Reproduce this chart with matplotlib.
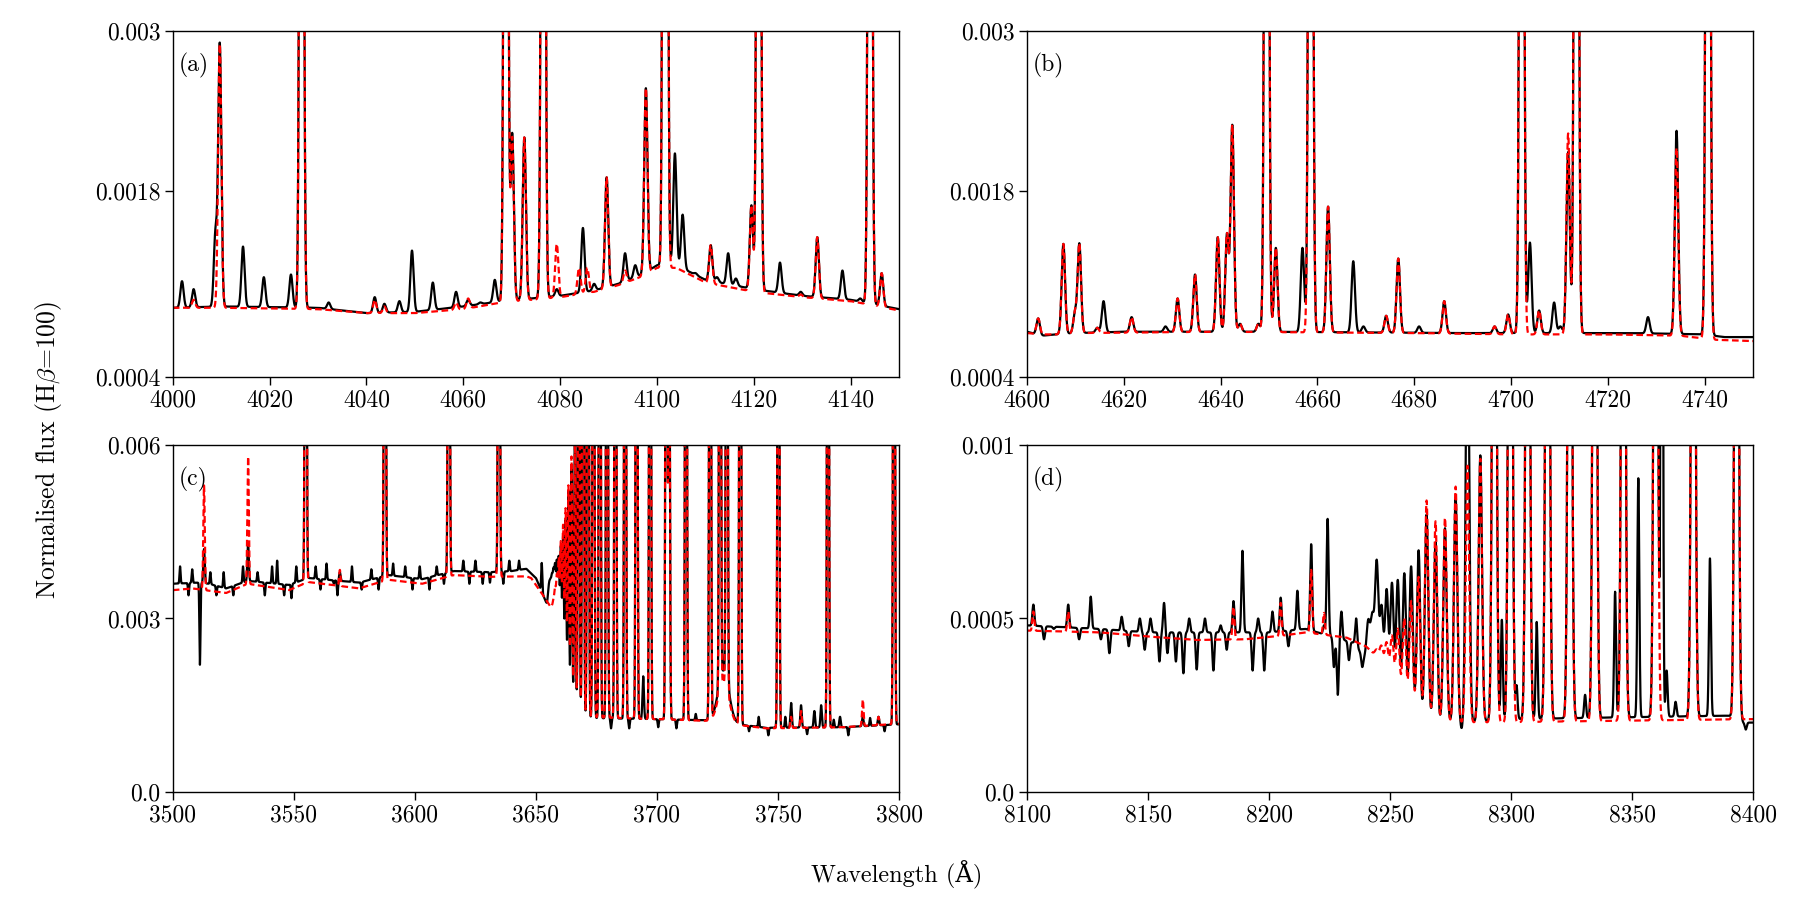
import numpy as np
import matplotlib
matplotlib.use("Agg")
import matplotlib.pyplot as plt

plt.rcParams['font.family'] = ['cmr10', 'DejaVu Serif']
plt.rcParams['mathtext.fontset'] = 'cm'
plt.rcParams['axes.formatter.use_mathtext'] = True
plt.rcParams['axes.unicode_minus'] = False

# ---------------- Panel (a): 4000-4150 A ----------------
a_cont_obs_wl = [4000, 4010, 4030, 4040, 4050, 4060, 4068, 4080, 4087, 4092, 4097, 4100, 4104, 4110, 4120, 4130, 4140, 4150]
a_cont_obs    = [0.00092, 0.00093, 0.00092, 0.00088, 0.00089, 0.00093, 0.00097, 0.00101, 0.00105, 0.0011, 0.00117, 0.00124, 0.00124, 0.00113, 0.00106, 0.00101, 0.00098, 0.00091]
a_cont_mod_wl = [4000, 4010, 4030, 4040, 4050, 4060, 4068, 4080, 4087, 4092, 4096.5, 4100, 4104, 4110, 4120, 4130, 4140, 4150]
a_cont_mod    = [0.00092, 0.00092, 0.00091, 0.00088, 0.00088, 0.00091, 0.00096, 0.001, 0.00104, 0.00109, 0.00115, 0.00122, 0.00122, 0.00111, 0.00104, 0.001, 0.00097, 0.0009]
a_line_wl  = [4001.9, 4004.3, 4008.8, 4009.7, 4014.5, 4018.8, 4024.4, 4026.6, 4032.2, 4041.7, 4043.7, 4046.8, 4049.4, 4053.7, 4058.5, 4061.0, 4063.5, 4066.5, 4068.8, 4070.1, 4072.6, 4076.5, 4079.3, 4083.9, 4084.7, 4085.6, 4087.0, 4089.6, 4093.4, 4095.5, 4097.7, 4101.7, 4103.7, 4105.3, 4108.0, 4111.1, 4112.4, 4114.7, 4116.3, 4119.5, 4121.0, 4125.4, 4129.7, 4133.1, 4138.3, 4142.0, 4144.0, 4146.4]
a_line_obs = [0.00112, 0.00106, 0.00147, 0.0029, 0.00138, 0.00115, 0.00117, 0.012, 0.00096, 0.001, 0.00095, 0.00097, 0.00135, 0.00111, 0.00104, 0.00098, 0.00096, 0.00113, 0.012, 0.00223, 0.0022, 0.012, 0.00106, 0, 0.00152, 0, 0.0011, 0.0019, 0.00133, 0.00124, 0.00257, 0.02, 0.00208, 0.00162, 0.00118, 0.00139, 0.00115, 0.00133, 0.00114, 0.00169, 0.012, 0.00126, 0.00104, 0.00145, 0.0012, 0.00099, 0.012, 0.00118]
a_line_mod = [0, 0.00098, 0, 0.0029, 0, 0, 0, 0.012, 0, 0.00098, 0.00093, 0, 0, 0, 0.00096, 0.00099, 0, 0, 0.012, 0.0022, 0.0022, 0.012, 0.0014, 0.00122, 0, 0.00122, 0, 0.0019, 0.0012, 0, 0.00257, 0.02, 0, 0, 0, 0.00139, 0, 0, 0, 0.00169, 0.012, 0, 0.00102, 0.00145, 0, 0, 0.012, 0.00118]

# ---------------- Panel (b): 4600-4750 A ----------------
b_cont_obs_wl = [4600, 4603, 4606, 4610, 4620, 4650, 4690, 4710, 4725, 4740, 4744, 4750]
b_cont_obs    = [0.00074, 0.00071, 0.00072, 0.00073, 0.00074, 0.00074, 0.00073, 0.00073, 0.00073, 0.00072, 0.0007, 0.0007]
b_cont_mod_wl = [4600, 4603, 4606, 4610, 4640, 4680, 4700, 4720, 4735, 4742, 4750]
b_cont_mod    = [0.00073, 0.00072, 0.00072, 0.00073, 0.00074, 0.00073, 0.00072, 0.00072, 0.00071, 0.00068, 0.00067]
b_line_wl  = [4602.3, 4607.5, 4609.9, 4610.8, 4614.5, 4615.8, 4621.6, 4628.6, 4631.1, 4634.7, 4639.4, 4641.3, 4642.4, 4644.0, 4647.8, 4649.5, 4651.4, 4656.9, 4658.6, 4662.2, 4667.4, 4669.5, 4674.2, 4676.7, 4681.0, 4686.2, 4696.6, 4699.4, 4702.2, 4703.9, 4705.8, 4708.9, 4710.2, 4711.8, 4713.5, 4728.3, 4734.2, 4740.7]
b_line_obs = [0.00084, 0.0014, 0.00088, 0.0014, 0.00077, 0.00097, 0.00085, 0.00078, 0.00099, 0.00117, 0.00145, 0.00147, 0.00229, 0.0008, 0.0008, 0.012, 0.00137, 0.00137, 0.012, 0.00168, 0.00127, 0.00078, 0.00086, 0.00129, 0.00078, 0.00097, 0.00078, 0.00087, 0.012, 0.00141, 0.0009, 0.00096, 0.00078, 0.00209, 0.012, 0.00085, 0.00225, 0.012]
b_line_mod = [0.00084, 0.0014, 0.00088, 0.0014, 0.00077, 0, 0.00085, 0, 0.00099, 0.00117, 0.00145, 0.00147, 0.00229, 0.0008, 0.0008, 0.012, 0.00137, 0, 0.012, 0.00168, 0, 0, 0.00086, 0.00129, 0, 0.00097, 0.00078, 0.00087, 0.012, 0, 0.0009, 0, 0, 0.00223, 0.012, 0, 0.00212, 0.012]

# ---------------- Panel (c): 3500-3800 A ----------------
c_cont_obs_wl = [3500, 3510, 3515, 3522, 3531, 3548, 3556, 3577, 3589, 3603, 3616, 3631, 3640, 3646, 3650, 3653, 3656, 3659, 3662, 3664, 3670, 3700, 3720, 3745, 3777, 3800]
c_cont_obs    = [0.0036, 0.00362, 0.0036, 0.00352, 0.00365, 0.00358, 0.0037, 0.00362, 0.00375, 0.00368, 0.00382, 0.0038, 0.00382, 0.00386, 0.0037, 0.0034, 0.0031, 0.0025, 0.0017, 0.00135, 0.00128, 0.00126, 0.00124, 0.00111, 0.00112, 0.00117]
c_cont_mod_wl = [3500, 3508, 3522, 3531, 3548, 3556, 3577, 3589, 3603, 3616, 3631, 3646, 3648, 3650, 3653, 3656, 3659, 3661.2, 3663, 3665.3, 3668, 3700, 3720, 3745, 3777, 3800]
c_cont_mod    = [0.00349, 0.00352, 0.00344, 0.0036, 0.00349, 0.00363, 0.00352, 0.00367, 0.0036, 0.00375, 0.00372, 0.00373, 0.0037, 0.00358, 0.0034, 0.0032, 0.0028, 0.00235, 0.0019, 0.00146, 0.0013, 0.00126, 0.00123, 0.0011, 0.00112, 0.00118]
# emission lines (Balmer series and others)
c_line_wl  = [3512.9, 3531.1, 3554.9, 3569.0, 3587.6, 3614.0, 3634.7,
              3655.12, 3655.59, 3656.11, 3656.66, 3657.27, 3657.92, 3658.64, 3659.42, 3660.28, 3661.22, 3662.26, 3663.41, 3664.68, 3666.10, 3667.68, 3669.46, 3671.48, 3673.76, 3676.36, 3679.35, 3682.81, 3686.83, 3691.56, 3694.3, 3697.15, 3703.86, 3705.0, 3711.97, 3721.94, 3726.03, 3728.82, 3734.37, 3750.15, 3755.4, 3759.5, 3765.0, 3767.8, 3770.63, 3775.6, 3785.0, 3791.5, 3797.9]
c_line_obs = [0.0042, 0.0043, 0.02, 0.0038, 0.02, 0.02, 0.02,
              0.0034, 0.0035, 0.0035, 0.0036, 0.0037, 0.0038, 0.0039, 0.0040, 0.0042, 0.0044, 0.0047, 0.0052, 0.0056, 0.0065, 0.012, 0.02, 0.02, 0.02, 0.02, 0.02, 0.02, 0.02, 0.02, 0.0020, 0.02, 0.02, 0.01, 0.02, 0.02, 0.02, 0.02, 0.02, 0.02, 0.00154, 0.0015, 0.0014, 0.0015, 0.02, 0.0013, 0.0013, 0.0013, 0.02]
c_line_mod = [0.0053, 0.0058, 0.02, 0.00384, 0.02, 0.02, 0.02,
              0, 0, 0, 0.0032, 0.0033, 0.0035, 0.0037, 0.0040, 0.0043, 0.0046, 0.0049, 0.0053, 0.0058, 0.0062, 0.012, 0.02, 0.02, 0.02, 0.02, 0.02, 0.02, 0.02, 0.02, 0, 0.02, 0.02, 0.01, 0.02, 0.02, 0.02, 0.02, 0.02, 0.02, 0.0013, 0.0014, 0, 0, 0.02, 0, 0.0016, 0.0013, 0.02]
# narrow spikes and dips in the observed spectrum
c_spike_wl  = [3503.0, 3506.5, 3508.0, 3511.2, 3515.5, 3518.0, 3521.0, 3525.0, 3529.0, 3535.0, 3538.0, 3541.0, 3543.1, 3546.0, 3549.0, 3551.0, 3559.0, 3561.0, 3563.5, 3566.5, 3568.0, 3574.0, 3578.0, 3582.0, 3585.0, 3591.0, 3596.0, 3599.0, 3602.0, 3606.0, 3609.0, 3612.0, 3620.0, 3622.5, 3625.0, 3628.0, 3631.0, 3636.5, 3639.0, 3643.0, 3652.4,
               3681.0, 3688.5, 3700.5, 3708.0, 3716.0, 3738.0, 3742.0, 3746.0, 3753.0, 3762.0, 3773.0, 3779.0, 3788.0, 3794.0]
c_spike_obs = [0.0039, 0.0034, 0.00385, 0.0022, 0.0038, 0.0034, 0.0038, 0.0034, 0.0039, 0.0038, 0.0034, 0.0039, 0.0040, 0.0034, 0.00335, 0.0039, 0.0039, 0.0035, 0.00395, 0.0036, 0.0034, 0.0039, 0.0035, 0.00385, 0.0035, 0.00395, 0.0039, 0.0035, 0.0039, 0.0035, 0.0039, 0.0036, 0.0040, 0.0036, 0.0040, 0.0036, 0.00362, 0.0036, 0.0040, 0.0040, 0.00396,
               0.0011, 0.0011, 0.00112, 0.0011, 0.00135, 0.00105, 0.0013, 0.00098, 0.0013, 0.001, 0.00125, 0.00098, 0.00128, 0.00105]
c_spike_mod = [0] * len(c_spike_wl)
# broad [O II] component
c_broad_wl = [3727.5]
c_broad_obs = [0.0021]
c_broad_mod = [0.0019]

# ---------------- Panel (d): 8100-8400 A ----------------
d_cont_obs_wl = [8100, 8130, 8150, 8170, 8200, 8215, 8225, 8235, 8240, 8245, 8250, 8258, 8265, 8280, 8300, 8390, 8396, 8400]
d_cont_obs    = [0.00048, 0.00047, 0.00046, 0.00046, 0.00046, 0.00047, 0.00045, 0.00043, 0.00038, 0.00032, 0.00027, 0.00023, 0.00021, 0.0002, 0.00021, 0.00022, 0.0002, 0.0002]
d_cont_mod_wl = [8100, 8130, 8150, 8170, 8190, 8205, 8215, 8232, 8240, 8246, 8250, 8256, 8262, 8270, 8285, 8400]
d_cont_mod    = [0.000465, 0.00046, 0.000448, 0.000438, 0.00044, 0.00045, 0.00046, 0.000445, 0.00042, 0.00038, 0.00032, 0.00026, 0.00022, 0.0002, 0.0002, 0.00021]
# Paschen series
d_pas_wl  = [8241.0, 8242.7, 8244.5, 8246.5, 8248.6, 8250.8, 8253.2, 8255.9, 8258.7, 8261.8, 8265.1, 8268.8, 8272.7, 8277.1, 8282.0, 8287.3, 8293.1, 8299.7, 8306.9, 8315.1, 8324.3, 8334.6, 8346.4, 8359.8, 8375.3, 8393.2]
d_pas_obs = [0.00049, 0.0005, 0.00066, 0.00053, 0.00058, 0.0006, 0.00061, 0.00063, 0.00065, 0.000697, 0.0008, 0.00072, 0.00076, 0.00085, 0.0015, 0.00097, 0.003, 0.003, 0.003, 0.003, 0.003, 0.003, 0.003, 0.003, 0.003, 0.003]
d_pas_mod = [0, 0, 0.00041, 0.00042, 0.00043, 0.00045, 0.00047, 0.0005, 0.00055, 0.00062, 0.00084, 0.00078, 0.00079, 0.00088, 0.00094, 0.00096, 0.003, 0.003, 0.003, 0.003, 0.003, 0.003, 0.003, 0.003, 0.003, 0.003]
# other narrow features
d_line_wl  = [8102.6, 8107.0, 8111.0, 8117.0, 8121.5, 8126.3, 8130.5, 8134.0, 8139.1, 8142.0, 8146.6, 8148.6, 8151.0, 8154.7, 8156.6, 8158.0, 8161.5, 8164.6, 8167.0, 8170.1, 8173.5, 8177.0, 8180.0, 8182.5, 8185.3, 8189.0, 8193.2, 8195.5, 8198.0, 8201.4, 8204.8, 8208.0, 8211.7, 8217.4, 8222.7, 8224.2, 8226.8, 8228.4, 8229.9, 8233.0, 8236.0, 8238.5,
              8262.9, 8270.5, 8279.6, 8296.2, 8302.3, 8310.6, 8330.6, 8343.0, 8352.6, 8362.3, 8364.3, 8368.0, 8382.2, 8397.0]
d_line_obs = [0.00054, 0.00044, 0.00047, 0.00054, 0.00044, 0.000563, 0.00044, 0.0004, 0.000505, 0.00042, 0.0005, 0.00041, 0.0005, 0.000376, 0.000545, 0.0004, 0.000376, 0.000342, 0.0005, 0.000353, 0.0005, 0.00035, 0.00048, 0.00041, 0.00055, 0.000695, 0.00035, 0.0005, 0.00035, 0.00052, 0.00056, 0.00042, 0.00058, 0.000714, 0.00048, 0.000787, 0.00036, 0.00028, 0.00052, 0.00038, 0.0005, 0.00036,
              0.00019, 0.0002, 0.00018, 0.000496, 0.000305, 0.00049, 0.00028, 0.000577, 0.000904, 0.003, 0.00035, 0.00026, 0.000673, 0.00018]
d_line_mod = [0.00052, 0, 0, 0.00052, 0, 0, 0, 0, 0, 0, 0, 0, 0, 0, 0, 0, 0, 0, 0, 0, 0, 0, 0, 0, 0.000534, 0, 0, 0, 0, 0, 0.000545, 0, 0, 0.00064, 0.000516, 0, 0, 0, 0, 0, 0, 0,
              0, 0, 0, 0, 0, 0, 0, 0, 0, 0, 0, 0, 0, 0]

panels = [
    dict(label='(a)', xlim=(4000, 4150), xticks=[4000, 4020, 4040, 4060, 4080, 4100, 4120, 4140],
         ylim=(0.0004, 0.003), yticks=[0.0004, 0.0018, 0.003], ytl=['0.0004', '0.0018', '0.003'],
         co=(a_cont_obs_wl, a_cont_obs), cm=(a_cont_mod_wl, a_cont_mod),
         groups=[(a_line_wl, a_line_obs, a_line_mod, 0.33)],
         pos=[0.096, 0.5811, 0.4035, 0.3845]),
    dict(label='(b)', xlim=(4600, 4750), xticks=[4600, 4620, 4640, 4660, 4680, 4700, 4720, 4740],
         ylim=(0.0004, 0.003), yticks=[0.0004, 0.0018, 0.003], ytl=['0.0004', '0.0018', '0.003'],
         co=(b_cont_obs_wl, b_cont_obs), cm=(b_cont_mod_wl, b_cont_mod),
         groups=[(b_line_wl, b_line_obs, b_line_mod, 0.35)],
         pos=[0.5706, 0.5811, 0.4033, 0.3845]),
    dict(label='(c)', xlim=(3500, 3800), xticks=[3500, 3550, 3600, 3650, 3700, 3750, 3800],
         ylim=(0.0, 0.006), yticks=[0.0, 0.003, 0.006], ytl=['0.0', '0.003', '0.006'],
         co=(c_cont_obs_wl, c_cont_obs), cm=(c_cont_mod_wl, c_cont_mod),
         groups=[(c_line_wl, c_line_obs, c_line_mod, 0.3), (c_spike_wl, c_spike_obs, c_spike_mod, 0.22),
                 (c_broad_wl, c_broad_obs, c_broad_mod, 2.2)],
         pos=[0.096, 0.12, 0.4035, 0.3856]),
    dict(label='(d)', xlim=(8100, 8400), xticks=[8100, 8150, 8200, 8250, 8300, 8350, 8400],
         ylim=(0.0, 0.001), yticks=[0.0, 0.0005, 0.001], ytl=['0.0', '0.0005', '0.001'],
         co=(d_cont_obs_wl, d_cont_obs), cm=(d_cont_mod_wl, d_cont_mod),
         groups=[(d_pas_wl, d_pas_obs, d_pas_mod, 0.7), (d_line_wl, d_line_obs, d_line_mod, 0.4)],
         pos=[0.5706, 0.12, 0.4033, 0.3856]),
]


def build(wl, cont, groups, which):
    cw, cv = cont
    flux = np.interp(wl, cw, cv)
    for g in groups:
        centers, peaks, sigma = g[0], g[which], g[3]
        for c, p in zip(centers, peaks):
            if p > 0:
                amp = p - np.interp(c, cw, cv)
                flux = flux + amp * np.exp(-0.5 * ((wl - c) / sigma) ** 2)
    return flux


fig = plt.figure(figsize=(18, 9), dpi=100)
FS = 17
for p in panels:
    ax = fig.add_axes(p['pos'])
    wl = np.arange(p['xlim'][0], p['xlim'][1] + 0.01, 0.02)
    obs = build(wl, p['co'], p['groups'], 1)
    mod = build(wl, p['cm'], p['groups'], 2)
    ax.plot(wl, obs, color='black', lw=1.6)
    ax.plot(wl, mod, color='red', lw=1.6, ls=(0, (3, 1.6)))
    ax.set_xlim(*p['xlim'])
    ax.set_ylim(*p['ylim'])
    ax.set_xticks(p['xticks'])
    ax.set_xticklabels([str(t) for t in p['xticks']])
    ax.set_yticks(p['yticks'])
    ax.set_yticklabels(p['ytl'])
    ax.tick_params(labelsize=FS, length=5.5, width=1.0, direction='out')
    for s in ax.spines.values():
        s.set_linewidth(1.0)
    ax.text(0.008, 0.9, p['label'], transform=ax.transAxes, fontsize=FS, va='center', ha='left')

fig.text(0.027, 0.5, r'Normalised flux (H$\beta$=100)', rotation=90, va='center', ha='center', fontsize=18.5)
fig.text(0.498, 0.028, 'Wavelength (Å)', va='center', ha='center', fontsize=17.5)

fig.savefig('out.png', dpi=100)
